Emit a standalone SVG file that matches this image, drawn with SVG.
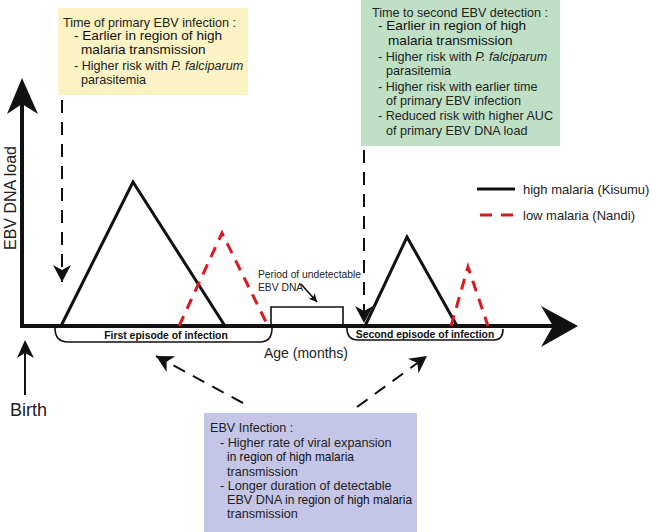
<svg xmlns="http://www.w3.org/2000/svg" width="652" height="532" viewBox="0 0 652 532">
<defs>
<style>
text{font-family:"Liberation Sans",Arial,sans-serif;fill:#222}
.t11{font-size:12.6px}
.t12{font-size:13.6px;fill:#111}
.dk{font-size:11.9px;fill:#111}
.sm{font-size:10.3px}
.bold{font-size:10.4px;font-weight:bold;fill:#111}
.axis{stroke:#111;stroke-width:4;fill:none}
.blk{stroke:#111;stroke-width:3;fill:none;stroke-linejoin:miter}
.red{stroke:#d71920;stroke-width:3;fill:none;stroke-dasharray:11 8}
.dash{stroke:#111;stroke-width:2;fill:none;stroke-dasharray:13 9}
.thin{stroke:#111;stroke-width:1.6;fill:none}
</style>
<marker id="ah" viewBox="-18 -10 20 20" refX="0" refY="0" markerWidth="20" markerHeight="20" markerUnits="userSpaceOnUse" orient="auto">
<path d="M0,0 L-17,-9 L-12,0 L-17,9 Z" fill="#111"/>
</marker>
<marker id="sah" viewBox="-10 -6 12 12" refX="0" refY="0" markerWidth="12" markerHeight="12" markerUnits="userSpaceOnUse" orient="auto">
<path d="M0,0 L-8,-4 L-6,0 L-8,4 Z" fill="#111"/>
</marker>
</defs>

<g id="box-primary">
<rect x="58" y="8" width="190" height="87" fill="#fbf3c3"/>
<text class="t11" x="63" y="26.5">Time of primary EBV infection :</text>
<text class="t12" x="74" y="40">- Earlier in region of high</text>
<text class="t12" x="81" y="54">malaria transmission</text>
<text class="t11" x="74" y="69.5">- Higher risk with <tspan font-style="italic">P. falciparum</tspan></text>
<text class="t11" x="81" y="83.5">parasitemia</text>
</g>

<g id="box-second">
<rect x="361" y="0" width="199" height="146" fill="#bfe0c5"/>
<text class="t11" x="372" y="16.5">Time to second EBV detection :</text>
<text class="t12" x="378" y="30">- Earlier in region of high</text>
<text class="t12" x="388" y="44.5">malaria transmission</text>
<text class="t11" x="378" y="60.5">- Higher risk with <tspan font-style="italic">P. falciparum</tspan></text>
<text class="t11" x="386" y="74.5">parasitemia</text>
<text class="t11" x="378" y="90.5">- Higher risk with earlier time</text>
<text class="t11" x="386" y="104.5">of primary EBV infection</text>
<text class="t11" x="378" y="119.5">- Reduced risk with higher AUC</text>
<text class="t11" x="386" y="134.5">of primary EBV DNA load</text>
</g>

<g id="box-infection">
<rect x="204" y="413" width="213" height="119" fill="#c4c5e7"/>
<text class="t11" x="210" y="431.5">EBV Infection :</text>
<text class="t11" x="220" y="446.5">- Higher rate of viral expansion</text>
<text class="dk" x="227" y="461">in region of high malaria</text>
<text class="t11" x="227" y="475.5">transmission</text>
<text class="t11" x="220" y="489.5">- Longer duration of detectable</text>
<text class="t11" x="227" y="503.5">EBV DNA <tspan class="dk">in region of high malaria</tspan></text>
<text class="t11" x="227" y="517.5">transmission</text>
</g>

<g id="axes">
<line class="axis" x1="22" y1="328" x2="22" y2="100"/>
<path d="M22,78 L7,114 L22,104 L38,114 Z" fill="#111"/>
<line class="axis" x1="20" y1="326" x2="556" y2="326"/>
<path d="M578,326 L541,306 L553,326 L541,347 Z" fill="#111"/>
<text transform="translate(16,198) rotate(-90)" text-anchor="middle" style="font-size:16px">EBV DNA load</text>
<text x="306" y="358" text-anchor="middle" style="font-size:14px">Age (months)</text>
</g>

<g id="birth">
<line x1="25" y1="395" x2="25" y2="350" stroke="#111" stroke-width="2"/>
<path d="M25,340 L17,358 L25,353 L34,358 Z" fill="#111"/>
<text x="10" y="416" style="font-size:18px">Birth</text>
</g>

<g id="curves">
<polyline class="blk" points="61,326 133,182 225,326"/>
<polyline class="red" points="179,326 222,233 268,326"/>
<polyline class="blk" points="365,326 407,237 457,326"/>
<polyline class="red" points="451,326 468,267 488,326"/>
</g>

<g id="period">
<polyline class="thin" points="271,326 271,307 343,307 343,326" stroke-width="2"/>
<text class="sm" x="258" y="277.5">Period of undetectable</text>
<text class="sm" x="258" y="291">EBV DNA</text>
<line class="thin" x1="301" y1="284" x2="317" y2="302" stroke-width="1.2" marker-end="url(#sah)"/>
</g>

<g id="brackets">
<path class="thin" d="M55,328 Q55,342 68,342 L260,342 Q272,342 272,328"/>
<text class="bold" x="166" y="339" text-anchor="middle">First episode of infection</text>
<path class="thin" d="M347,328 Q347,340 358,340 L494,340 Q503,340 503,329"/>
<text class="bold" x="425" y="338" text-anchor="middle">Second episode of infection</text>
</g>

<g id="legend">
<line x1="477" y1="189" x2="515" y2="189" stroke="#111" stroke-width="3"/>
<text x="523" y="193.5" style="font-size:13px">high malaria (Kisumu)</text>
<line x1="480" y1="215" x2="514" y2="215" stroke="#d71920" stroke-width="3" stroke-dasharray="12 9"/>
<text x="523" y="219.5" style="font-size:13px">low malaria (Nandi)</text>
</g>

<g id="connectors">
<line class="dash" x1="62" y1="100" x2="62" y2="282" marker-end="url(#ah)"/>
<line class="dash" x1="364" y1="150" x2="364" y2="323" marker-end="url(#ah)"/>
<line class="dash" x1="243" y1="403" x2="156" y2="356" marker-end="url(#ah)"/>
<line class="dash" x1="357" y1="407" x2="427" y2="356" marker-end="url(#ah)"/>
</g>
</svg>
